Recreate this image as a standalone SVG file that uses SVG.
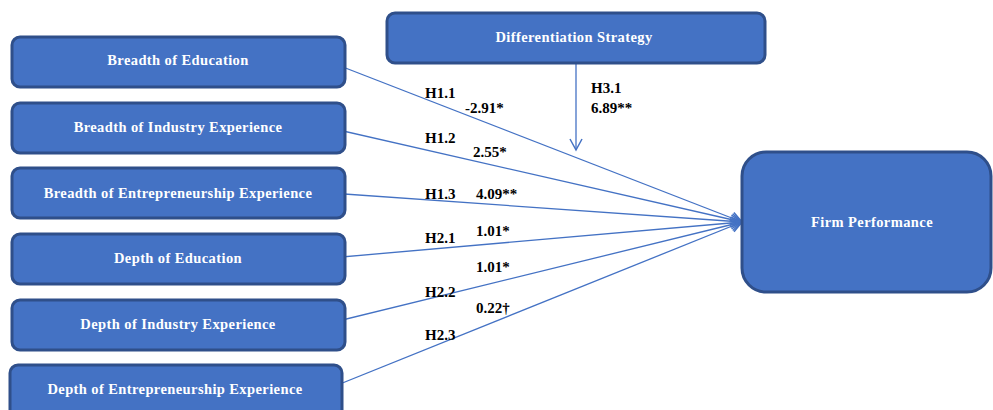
<svg xmlns="http://www.w3.org/2000/svg" width="993" height="410" viewBox="0 0 993 410">
<defs>
<style>
.box{fill:#4472C4;stroke:#2F4F8A;stroke-width:3}
.nt{fill:#ffffff;font-family:"Liberation Serif","Times New Roman",serif;font-weight:bold;font-size:14.5px;letter-spacing:0.4px;text-anchor:middle;dominant-baseline:central}
.lb{fill:#000000;font-family:"Liberation Serif","Times New Roman",serif;font-weight:bold;font-size:15px}
.cn{stroke:#4472C4;stroke-width:1.3;fill:none}
</style>
<marker id="arr" markerUnits="userSpaceOnUse" markerWidth="16" markerHeight="16" viewBox="0 0 16 16" refX="14" refY="8" orient="auto">
<path d="M3,2 L14,8 L3,14" fill="none" stroke="#4472C4" stroke-width="1.5"/>
</marker>
</defs>
<rect width="993" height="410" fill="#ffffff"/>
<g id="connectors">
<line class="cn" x1="330" y1="62" x2="742" y2="222" marker-end="url(#arr)"/>
<line class="cn" x1="330" y1="128" x2="742" y2="222" marker-end="url(#arr)"/>
<line class="cn" x1="330" y1="193" x2="742" y2="222" marker-end="url(#arr)"/>
<line class="cn" x1="330" y1="258" x2="742" y2="222" marker-end="url(#arr)"/>
<line class="cn" x1="330" y1="323" x2="742" y2="222" marker-end="url(#arr)"/>
<line class="cn" x1="330" y1="388" x2="742" y2="222" marker-end="url(#arr)"/>
<line class="cn" x1="576" y1="63" x2="576" y2="150" marker-end="url(#arr)"/>
</g>
<g id="labels">
<text class="lb" x="425" y="98">H1.1</text>
<text class="lb" x="465" y="113">-2.91*</text>
<text class="lb" x="425" y="143">H1.2</text>
<text class="lb" x="473" y="157">2.55*</text>
<text class="lb" x="425" y="199">H1.3</text>
<text class="lb" x="476" y="199">4.09**</text>
<text class="lb" x="425" y="243">H2.1</text>
<text class="lb" x="476" y="236">1.01*</text>
<text class="lb" x="476" y="272">1.01*</text>
<text class="lb" x="425" y="297">H2.2</text>
<text class="lb" x="476" y="313">0.22†</text>
<text class="lb" x="425" y="340">H2.3</text>
<text class="lb" x="591" y="93">H3.1</text>
<text class="lb" x="591" y="113">6.89**</text>
</g>
<g id="n1"><rect class="box" x="12" y="37" width="333" height="50" rx="8"/><text class="nt" x="178" y="60">Breadth of Education</text></g>
<g id="n2"><rect class="box" x="12" y="103" width="333" height="50" rx="8"/><text class="nt" x="178" y="127">Breadth of Industry Experience</text></g>
<g id="n3"><rect class="box" x="12" y="168" width="333" height="50" rx="8"/><text class="nt" x="178" y="193">Breadth of Entrepreneurship Experience</text></g>
<g id="n4"><rect class="box" x="12" y="234" width="333" height="50" rx="8"/><text class="nt" x="178" y="258">Depth of Education</text></g>
<g id="n5"><rect class="box" x="12" y="300" width="333" height="50" rx="8"/><text class="nt" x="178" y="324">Depth of Industry Experience</text></g>
<g id="n6"><rect class="box" x="10" y="365" width="332" height="60" rx="8"/><text class="nt" x="175" y="389">Depth of Entrepreneurship Experience</text></g>
<g id="n7"><rect class="box" x="387" y="13" width="378" height="50" rx="8"/><text class="nt" x="574" y="37">Differentiation Strategy</text></g>
<g id="n8"><rect class="box" x="742" y="152" width="249" height="140" rx="24"/><text class="nt" x="872" y="222">Firm Performance</text></g>
</svg>
